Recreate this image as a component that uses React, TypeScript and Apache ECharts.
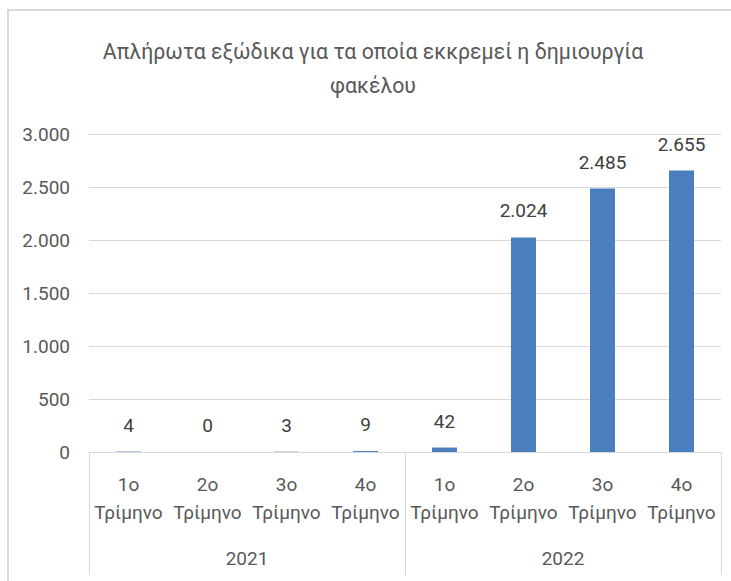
import React, { useEffect, useRef } from "react";
import * as echarts from "echarts";

const titleText = "Απλήρωτα εξώδικα για τα οποία εκκρεμεί η δημιουργία\nφακέλου";
const quarters = ["1ο\nΤρίμηνο", "2ο\nΤρίμηνο", "3ο\nΤρίμηνο", "4ο\nΤρίμηνο", "1ο\nΤρίμηνο", "2ο\nΤρίμηνο", "3ο\nΤρίμηνο", "4ο\nΤρίμηνο"];
const years = ["2021", "2022"];
const values = [4, 0, 3, 9, 42, 2024, 2485, 2655];
const yTicks = { min: 0, max: 3000, interval: 500 };

const FONT = "Roboto, 'Noto Sans', sans-serif";

function fmt(v: number): string {
  return String(v).replace(/\B(?=(\d{3})+(?!\d))/g, ".");
}

export default function App() {
  const ref = useRef<HTMLDivElement>(null);
  useEffect(() => {
    if (!ref.current) return;
    const chart = echarts.init(ref.current, null, { renderer: "svg" });
    chart.setOption({
      animation: false,
      backgroundColor: "#ffffff",
      textStyle: { fontFamily: FONT },
      title: {
        text: titleText,
        left: 368,
        textAlign: "center",
        top: 29,
        textStyle: {
          fontFamily: FONT,
          fontSize: 21.3,
          fontWeight: "normal",
          color: "#595959",
          lineHeight: 34,
        },
      },
      graphic: [
        {
          type: "rect",
          shape: { x: 8, y: 10, width: 760, height: 620 },
          style: { fill: "none", stroke: "#d9d9d9", lineWidth: 2 },
          silent: true,
        },
      ],
      grid: { left: 89, right: 10, top: 134, bottom: 129 },
      xAxis: [
        {
          type: "category",
          data: quarters,
          position: "bottom",
          axisLine: { show: true, lineStyle: { color: "#d9d9d9", width: 1 } },
          axisTick: { show: false },
          axisLabel: {
            interval: 0,
            margin: 18,
            color: "#595959",
            fontFamily: FONT,
            fontSize: 19,
            lineHeight: 28,
          },
        },
        {
          type: "category",
          data: years,
          position: "bottom",
          boundaryGap: true,
          axisLine: { show: false },
          axisTick: { show: true, length: 123, lineStyle: { color: "#d9d9d9", width: 1 } },
          axisLabel: {
            interval: 0,
            margin: 92,
            color: "#595959",
            fontFamily: FONT,
            fontSize: 19,
            lineHeight: 28,
          },
        },
      ],
      yAxis: {
        type: "value",
        min: yTicks.min,
        max: yTicks.max,
        interval: yTicks.interval,
        axisLine: { show: false },
        axisTick: { show: false },
        splitLine: { lineStyle: { color: "#d9d9d9", width: 1 } },
        axisLabel: {
          margin: 19,
          color: "#595959",
          fontFamily: FONT,
          fontSize: 19,
          formatter: (v: number) => fmt(v),
        },
      },
      series: [
        {
          type: "bar",
          xAxisIndex: 0,
          data: values,
          barWidth: 25,
          itemStyle: { color: "#4a7ebf" },
          label: {
            show: true,
            position: "top",
            distance: 17,
            color: "#404040",
            fontFamily: FONT,
            fontSize: 19,
            formatter: (p: any) => fmt(p.value),
          },
        },
      ],
    });
    return () => chart.dispose();
  }, []);
  return <div ref={ref} style={{ width: 731, height: 581, position: "absolute", left: 0, top: 0 }} />;
}
